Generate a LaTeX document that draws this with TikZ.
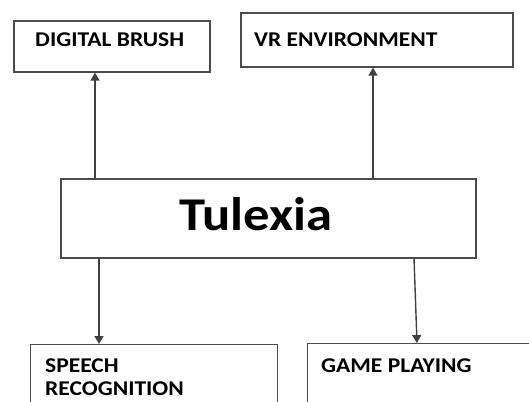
\documentclass[tikz,border=0pt]{standalone}
\usepackage{fontspec}
\setmainfont{Carlito}[FakeStretch=1.12]
\usetikzlibrary{arrows.meta}
\begin{document}
\begin{tikzpicture}[x=1pt,y=-1pt,
  boxstyle/.style={draw=black!70,line width=1.3pt,fill=white},
  lbl/.style={anchor=base west,font=\bfseries\fontsize{21}{25}\selectfont,inner sep=0pt},
  conn/.style={draw=black!75,line width=1.4pt,-{Triangle[length=8pt,width=9pt]}}]
\useasboundingbox (0,0) rectangle (529,401);
\clip (0,0) rectangle (529,401);
\fill[white] (0,0) rectangle (529,401);
% boxes
\node[boxstyle,minimum width=196pt,minimum height=51pt,inner sep=0pt] (db) at (112,46.5) {};
\node[boxstyle,minimum width=272pt,minimum height=54pt,inner sep=0pt] (vr) at (377,40) {};
\node[boxstyle,minimum width=415pt,minimum height=79pt,inner sep=0pt] (tx) at (268.5,218.5) {};
\node[boxstyle,minimum width=247pt,minimum height=80pt,inner sep=0pt,anchor=north west] (sr) at (30,344) {};
\node[boxstyle,minimum width=240pt,minimum height=80pt,inner sep=0pt,anchor=north west] (gp) at (307,343) {};
% texts
\node[lbl] (dbt) at (35,46.7) {DIGITAL BRUSH};
\node[lbl] (vrt) at (254,46.7) {VR ENVIRONMENT};
\node[anchor=base,font=\bfseries\fontsize{47}{55}\selectfont,inner sep=0pt] (txt) at (256,230) {Tulexia};
\node[lbl] (srt1) at (45,372.7) {SPEECH};
\node[lbl] (srt2) at (45,395.5) {RECOGNITION};
\node[lbl] (gpt) at (321,372.7) {GAME PLAYING};
% connectors
\coordinate (a1) at (95,179);
\coordinate (a2) at (373,179);
\coordinate (b1) at (99,258);
\coordinate (b2) at (414,258);
\draw[conn] (a1) -- (a1 |- db.south);
\draw[conn] (a2) -- (a2 |- vr.south);
\draw[conn] (b1) -- (b1 |- sr.north);
\draw[conn] (b2) -- (417,343);
\end{tikzpicture}
\end{document}
